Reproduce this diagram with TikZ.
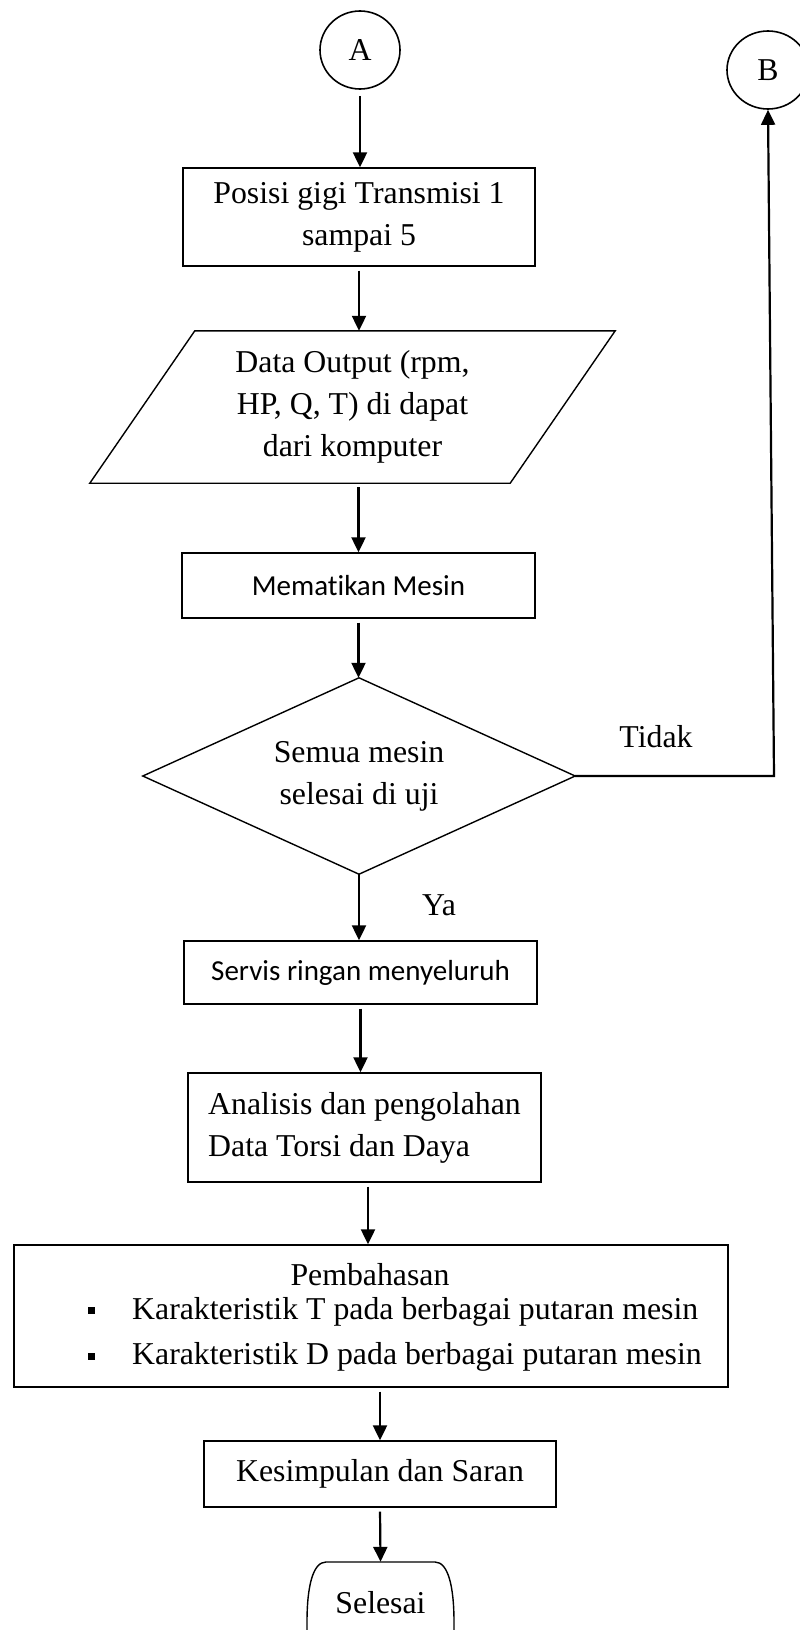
\documentclass[tikz,border=0pt]{standalone}
\usepackage{fontspec}
\setmainfont{Liberation Serif}
\newfontfamily\calibri[Ligatures=NoCommon]{Carlito}
\usetikzlibrary{arrows.meta,shapes.geometric,calc}
\begin{document}
\begin{tikzpicture}[x=1pt,y=-1pt,
  txt/.style={font=\fontsize{31.8}{42}\selectfont, align=center, inner sep=0pt},
  sans/.style={font=\calibri\fontsize{29}{35}\selectfont, align=center, inner sep=0pt},
  box/.style={draw, line width=1.4pt, inner sep=0pt},
  outline/.style={line width=1.4pt},
  conn/.style={draw, ellipse, line width=1.6pt, inner sep=0pt, minimum height=78pt},
  arr/.style={line width=2.2pt, shorten <=4pt, -{Triangle[length=15pt,width=14pt]}},
  bul/.style={fill, minimum size=7pt, inner sep=0pt},
]
\clip (0,0) rectangle (800,1630);
\fill[white] (0,0) rectangle (800,1630);

% connectors
\node[conn, txt, minimum width=80pt] (A) at (360,50) {A};
\node[conn, txt, minimum width=82pt] (B) at (768,70) {B};

% process 1
\node[box, txt, minimum width=352pt, minimum height=98pt] (p1) at (359,217) {Posisi gigi Transmisi 1\\sampai 5};

% data (parallelogram)
\node[txt, minimum width=525pt, minimum height=152pt] (data) at (352.5,407) {Data Output (rpm,\\HP, Q, T) di dapat\\dari komputer};
\draw[outline] ([xshift=105pt]data.north west) -- (data.north east) -- ([xshift=-105pt]data.south east) -- (data.south west) -- cycle;

% mematikan
\node[box, sans, minimum width=353pt, minimum height=65pt] (mem) at (358.5,585.5) {Mematikan Mesin};

% decision
\node[txt, minimum width=432pt, minimum height=196pt] (dec) at (359,776) {Semua mesin\\selesai di uji};
\draw[outline] (dec.north) -- (dec.east) -- (dec.south) -- (dec.west) -- cycle;

% servis
\node[box, sans, minimum width=353pt, minimum height=63pt] (serv) at (360.5,972.5) {Servis ringan menyeluruh};

% analisis
\node[box, txt, align=left, inner xsep=20pt, minimum height=109pt] (ana) at (364.5,1127.5) {Analisis dan pengolahan\\Data Torsi dan Daya};

% pembahasan
\node[box, minimum width=714pt, minimum height=142pt] (pemb) at (371,1316) {};
\node[txt] (pt) at (370,1275) {Pembahasan};
\node[bul] (b1) at (91,1310) {};
\node[txt, anchor=west] (k1) at (132,1312) {Karakteristik T pada berbagai putaran mesin};
\node[bul] (b2) at (91,1356) {};
\node[txt, anchor=west] (k2) at (132,1357) {Karakteristik D pada berbagai putaran mesin};

% kesimpulan
\node[box, txt, minimum width=352pt, minimum height=66pt] (kes) at (380,1474) {Kesimpulan dan Saran};

% selesai (terminator)
\node[txt, minimum width=147pt, minimum height=82pt] (sel) at (380.5,1603) {Selesai};
\draw[outline] (307,1645) -- (307,1622) .. controls (307,1586) and (313,1562) .. (326,1562) -- (435,1562) .. controls (448,1562) and (454,1586) .. (454,1622) -- (454,1645);

% labels
\node[txt] (tidak) at (656,737) {Tidak};
\node[txt] (ya) at (439,905) {Ya};

% arrows
\draw[arr, shorten <=6pt] (A.south) -- (A.south |- p1.north);
\draw[arr] (p1.south) -- (p1.south |- data.north);
\draw[arr] (mem.north |- data.south) -- (mem.north);
\draw[arr] (mem.south) -- (mem.south |- dec.north);
\draw[arr, shorten <=0pt] (dec.south) -- (dec.south |- serv.north);
\draw[arr] (serv.south) -- (serv.south |- ana.north);
\draw[arr] ([xshift=3.5pt]ana.south) -- ([xshift=3.5pt]ana.south |- pemb.north);
\draw[arr] (kes.north |- pemb.south) -- (kes.north);
\draw[arr] (kes.south) -- (sel.north);
\coordinate (c1) at (774,776);
\draw[arr, shorten <=0pt] (dec.east) -- (c1) -- (B.south);
\end{tikzpicture}
\end{document}
